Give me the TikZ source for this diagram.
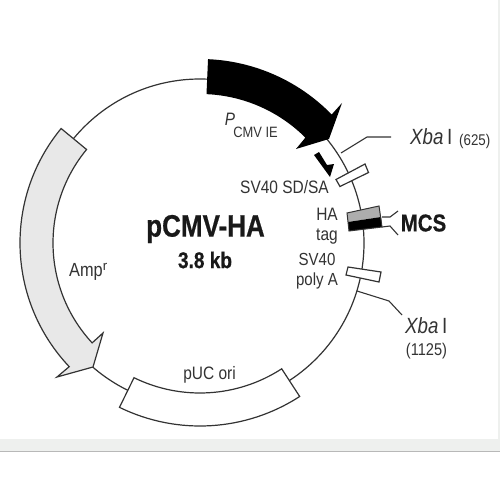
\documentclass[tikz,border=0pt]{standalone}
\usepackage{fontspec}
\setmainfont{Liberation Sans}
\newfontfamily\nar[FakeStretch=0.86]{Liberation Sans}
\newfontfamily\narb[FakeStretch=0.84,FakeBold=0.6]{Liberation Sans Bold}
\newfontfamily\nari[FakeStretch=0.85]{Liberation Sans Italic}
\definecolor{ink}{HTML}{333333}
\definecolor{stripbg}{HTML}{EEF0EE}
\tikzset{
  outline/.style={draw=ink,line width=1.2pt,line join=miter},
  wire/.style={draw=ink,line width=1.1pt},
  lab/.style={inner sep=0pt,text=ink,align=center},
  tx/.style={lab,font=\nar\fontsize{18}{20}\selectfont},
}
\begin{document}
\begin{tikzpicture}[x=1pt,y=-1pt]
\useasboundingbox (0,0) rectangle (500,500);
\fill[white] (0,0) rectangle (500,500);
\fill[stripbg] (0,439) rectangle (500,451);
\fill[stripbg] (497.5,0) rectangle (500,451);
\draw[black!28,line width=0.7pt] (0,451.5) -- (500,451.5);
\begin{scope}[shift={(200,243)},y=1pt]
  % plasmid circle
  \draw[wire,line width=1.2pt] (0,0) circle[radius=164pt];
  % black promoter arrow
  \fill[black] (87.5:184) arc[start angle=87.5,end angle=44.3,radius=184pt]
    -- (142,140) -- (129,104) -- (96,94) -- (45:149)
    arc[start angle=45,end angle=87.5,radius=149pt] -- cycle;
  % Amp arrow
  \path[outline,fill=black!9] (140.5:180) arc[start angle=140.5,end angle=223.4,radius=180pt]
    -- (-143,-134) -- (-107,-124) -- (-97,-90) -- (222.8:147)
    arc[start angle=222.8,end angle=140.5,radius=147pt] -- cycle;
  % pUC ori
  \path[outline,fill=white] (243.9:183) arc[start angle=243.9,end angle=303,radius=183pt]
    -- (303:150) arc[start angle=303,end angle=243.9,radius=150pt] -- cycle;
\end{scope}
% small boxes
\path[outline,fill=white] (336,179.5) -- (365,164) -- (368.5,172.5) -- (340,186.5) -- cycle;
\path[outline,fill=white] (348,267) -- (381,272) -- (379,282) -- (346,275) -- cycle;
\fill[black!32] (347,213) -- (379,206) -- (381,217) -- (348,222) -- cycle;
\fill[black] (348,222) -- (381,217) -- (382,227) -- (349,231) -- cycle;
\draw[ink,line width=1pt] (347,213) -- (379,206) -- (382,227) -- (349,231) -- cycle;
% small promoter mark
\fill[black] (314,155) -- (319,152) -- (327,165) -- (334,164) -- (330,177) -- cycle;
% connector wires
\coordinate (xa1) at (341,153); \coordinate (xa2) at (367,137); \coordinate (xa3) at (391,137);
\coordinate (xb1) at (357,291); \coordinate (xb2) at (389,301); \coordinate (xb3) at (402,315);
\coordinate (ma1) at (382,217); \coordinate (ma2) at (390,217); \coordinate (ma3) at (398,211);
\coordinate (mb1) at (382,227); \coordinate (mb2) at (390,226); \coordinate (mb3) at (398,235);
\draw[wire] (xa1) -- (xa2) -- (xa3);
\draw[wire] (xb1) -- (xb2) -- (xb3);
\draw[wire] (ma1) -- (ma2) -- (ma3);
\draw[wire] (mb1) -- (mb2) -- (mb3);
% labels
\node[lab,font=\narb\fontsize{31}{32}\selectfont,text=black!90] (title) at (205.5,229) {pCMV-HA};
\node[lab,font=\narb\fontsize{22.7}{24}\selectfont,text=black!90] (size) at (205,260) {3.8 kb};
\node[lab,font=\nari\fontsize{18}{19}\selectfont] (pp) at (230,119) {P};
\node[tx,font=\nar\fontsize{15}{16}\selectfont] (cmv) at (255.5,132) {CMV IE};
\node[tx] (sd) at (284.5,187) {SV40 SD/SA};
\node[tx] (ha) at (327,226) {HA\\[0pt]tag};
\node[tx,font=\nar\fontsize{17.5}{20}\selectfont] (sv) at (317,271) {SV40\\[0pt]poly A};
\node[tx,anchor=west,font=\nar\fontsize{19}{20}\selectfont] (amp) at (69,272) {Amp$^{\mathrm{r}}$};
\node[tx] (puc) at (209.5,375) {pUC ori};
\node[lab,font=\narb\fontsize{24.3}{25}\selectfont,text=black!90] (mcs) at (423.5,223) {MCS};
\node[lab,anchor=west,font=\nari\fontsize{22}{23}\selectfont] (xba) at (410,137) {Xba\,{\nar I}};
\node[tx,anchor=west,font=\nar\fontsize{15.5}{16}\selectfont] (n625) at (459,141) {(625)};
\node[lab,anchor=west,font=\nari\fontsize{22}{23}\selectfont] (xbb) at (405,326) {Xba\,{\nar I}};
\node[tx,font=\nar\fontsize{17}{18}\selectfont] (n1125) at (426.5,351) {(1125)};
\end{tikzpicture}
\end{document}
